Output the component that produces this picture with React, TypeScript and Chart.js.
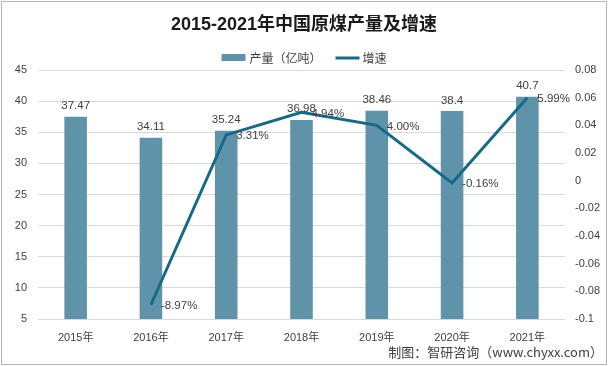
import React, { useEffect, useRef } from "react";
import Chart from "chart.js/auto";

const categories = ["2015年", "2016年", "2017年", "2018年", "2019年", "2020年", "2021年"];
const output = [37.47, 34.11, 35.24, 36.98, 38.46, 38.4, 40.7];
const outputLabels = ["37.47", "34.11", "35.24", "36.98", "38.46", "38.4", "40.7"];
const growth = [null, -0.0897, 0.0331, 0.0494, 0.04, -0.0016, 0.0599];
const growthLabels = ["", "-8.97%", "3.31%", "4.94%", "4.00%", "-0.16%", "5.99%"];
const titleText = "2015-2021年中国原煤产量及增速";
const seriesNames = ["产量（亿吨）", "增速"];
const sourceText = "制图：智研咨询（www.chyxx.com）";

const BAR_COLOR = "#5f93a9";
const LINE_COLOR = "#166988";
const TEXT_COLOR = "#404040";
const FONT = '"Liberation Sans", "Noto Sans CJK SC", sans-serif';
const CJK_FONT = '"Noto Sans CJK SC", "Liberation Sans", sans-serif';

const overlay = {
  id: "overlay",
  beforeDraw(chart: any) {
    const ctx = chart.ctx;
    ctx.save();
    ctx.fillStyle = "#ffffff";
    ctx.fillRect(0, 0, chart.width, chart.height);
    ctx.restore();
  },
  afterDatasetsDraw(chart: any) {
    const ctx = chart.ctx;
    ctx.save();
    ctx.fillStyle = TEXT_COLOR;
    ctx.font = "11.5px " + FONT;
    const barMeta = chart.getDatasetMeta(0);
    ctx.textAlign = "center";
    ctx.textBaseline = "bottom";
    barMeta.data.forEach((el: any, i: number) => {
      ctx.fillText(outputLabels[i], el.x, el.y - 5);
    });
    const lineMeta = chart.getDatasetMeta(1);
    ctx.textAlign = "left";
    ctx.textBaseline = "middle";
    lineMeta.data.forEach((el: any, i: number) => {
      if (growth[i] === null) return;
      ctx.fillText(growthLabels[i], el.x + 10, el.y + 1);
    });
    ctx.restore();
  },
  afterDraw(chart: any) {
    const ctx = chart.ctx;
    const W = chart.width;
    ctx.save();
    // title
    ctx.fillStyle = "#1a1a1a";
    ctx.font = "bold 18px " + FONT;
    ctx.textAlign = "center";
    ctx.textBaseline = "middle";
    ctx.fillText(titleText, W / 2, 25);
    // legend
    ctx.font = "12px " + CJK_FONT;
    ctx.textAlign = "left";
    const w1 = ctx.measureText(seriesNames[0]).width;
    const w2 = ctx.measureText(seriesNames[1]).width;
    const sw = 24;
    const total = sw + 4 + w1 + 14 + sw + 3 + w2;
    let x = W / 2 - total / 2;
    const ly = 58;
    ctx.fillStyle = BAR_COLOR;
    ctx.fillRect(x, ly - 4, sw, 7);
    x += sw + 4;
    ctx.fillStyle = TEXT_COLOR;
    ctx.fillText(seriesNames[0], x, ly);
    x += w1 + 14;
    ctx.strokeStyle = LINE_COLOR;
    ctx.lineWidth = 3;
    ctx.beginPath();
    ctx.moveTo(x, ly);
    ctx.lineTo(x + sw, ly);
    ctx.stroke();
    x += sw + 3;
    ctx.fillText(seriesNames[1], x, ly);
    // source
    ctx.font = "13px " + CJK_FONT;
    ctx.textAlign = "right";
    ctx.fillStyle = "#404040";
    ctx.fillText(sourceText, 603, 352);
    // border
    ctx.strokeStyle = "#b4b4b4";
    ctx.lineWidth = 1;
    ctx.strokeRect(1.5, 1.5, W - 3, chart.height - 3);
    ctx.restore();
  },
};

export default function App() {
  const ref = useRef<HTMLCanvasElement | null>(null);
  useEffect(() => {
    if (!ref.current) return;
    const chart = new Chart(ref.current, {
      type: "bar",
      data: {
        labels: categories,
        datasets: [
          {
            type: "bar",
            label: seriesNames[0],
            data: output,
            backgroundColor: BAR_COLOR,
            barPercentage: 0.3,
            categoryPercentage: 1,
            yAxisID: "y",
            order: 2,
          },
          {
            type: "line",
            label: seriesNames[1],
            data: growth,
            borderColor: LINE_COLOR,
            backgroundColor: LINE_COLOR,
            borderWidth: 3,
            pointRadius: 0,
            tension: 0,
            yAxisID: "y1",
            order: 1,
          } as any,
        ],
      },
      options: {
        responsive: false,
        animation: false,
        devicePixelRatio: 1,
        layout: { padding: { top: 70, left: 0, right: 0, bottom: 0 } },
        plugins: {
          legend: { display: false },
          title: { display: false },
          tooltip: { enabled: false },
        },
        scales: {
          x: {
            grid: { display: false },
            border: { display: false },
            ticks: {
              color: TEXT_COLOR,
              font: { size: 11, family: FONT },
              padding: 4,
              maxRotation: 0,
              autoSkip: false,
            },
            afterFit: (s: any) => {
              s.height = 47;
            },
          },
          y: {
            position: "left",
            min: 5,
            max: 45,
            ticks: {
              stepSize: 5,
              color: TEXT_COLOR,
              font: { size: 11, family: FONT },
              padding: 11,
            },
            grid: { color: "#d9d9d9", drawTicks: false, lineWidth: 1 },
            border: { display: false },
            afterFit: (s: any) => {
              s.width = 38;
            },
          },
          y1: {
            position: "right",
            min: -0.1,
            max: 0.08,
            ticks: {
              stepSize: 0.02,
              color: TEXT_COLOR,
              font: { size: 11, family: FONT },
              padding: 10,
              callback: (v: any) => String(Number(Number(v).toFixed(2))),
            },
            grid: { display: false, drawTicks: false },
            border: { display: false },
            afterFit: (s: any) => {
              s.width = 43;
            },
          },
        },
      },
      plugins: [overlay],
    });
    return () => chart.destroy();
  }, []);
  return (
    <div style={{ position: "absolute", left: 0, top: 0, width: 608, height: 366 }}>
      <canvas ref={ref} width={608} height={366} style={{ width: 608, height: 366 }} />
    </div>
  );
}
